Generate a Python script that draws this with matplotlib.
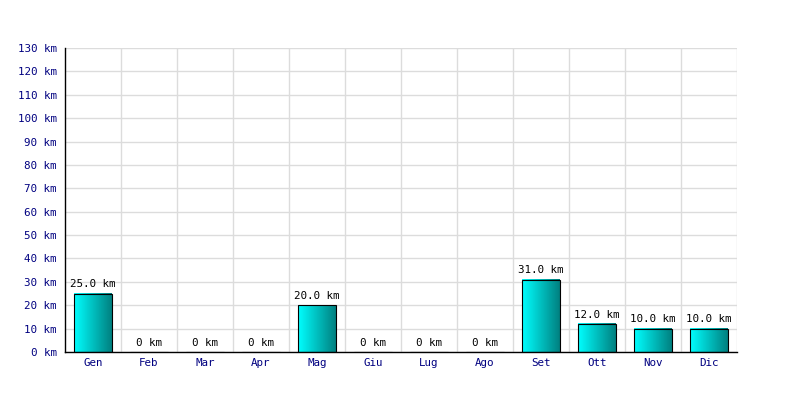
import matplotlib
matplotlib.use("Agg")
import matplotlib.pyplot as plt
import numpy as np
from matplotlib.colors import LinearSegmentedColormap

# Dati
mesi = ["Gen", "Feb", "Mar", "Apr", "Mag", "Giu", "Lug", "Ago", "Set", "Ott", "Nov", "Dic"]
km = [25.0, 0, 0, 0, 20.0, 0, 0, 0, 31.0, 12.0, 10.0, 10.0]
y_ticks = list(range(0, 140, 10))

fig = plt.figure(figsize=(8, 4), dpi=100)
ax = fig.add_axes([65 / 800, 48 / 400, 672 / 800, 304 / 400])

x = np.arange(len(mesi))
larghezza = 0.67
cmap = LinearSegmentedColormap.from_list("ciano", ["#00ffff", "#008080"])
grad = np.linspace(0, 1, 256).reshape(1, -1)

bars = ax.bar(x, km, width=larghezza, facecolor="none", edgecolor="black", linewidth=0.8, zorder=3)
for b, v in zip(bars, km):
    if v > 0:
        x0 = b.get_x()
        ax.imshow(grad, cmap=cmap, aspect="auto", extent=(x0, x0 + larghezza, 0, v),
                  interpolation="bilinear", zorder=2)
    etichetta = "0 km" if v == 0 else f"{v:.1f} km"
    ax.text(b.get_x() + larghezza / 2, v + 1.8, etichetta, ha="center", va="bottom",
            fontsize=7.8, family="DejaVu Sans Mono", color="black")

ax.set_xlim(-0.5, len(mesi) - 0.5)
ax.set_ylim(0, 130)
ax.set_xticks(x)
ax.set_xticklabels(mesi)
ax.set_xticks(np.arange(0.5, len(mesi), 1), minor=True)
ax.set_yticks(y_ticks)
ax.set_yticklabels([f"{t} km" for t in y_ticks])
for lab in ax.get_xticklabels() + ax.get_yticklabels():
    lab.set_family("DejaVu Sans Mono")
    lab.set_fontsize(7.8)
    lab.set_color("#000080")

ax.tick_params(axis="both", which="both", length=0)
ax.tick_params(axis="x", pad=4)
ax.tick_params(axis="y", pad=6)
ax.grid(True, axis="y", which="major", color="#dcdcdc", linewidth=1, zorder=0)
ax.grid(True, axis="x", which="minor", color="#dcdcdc", linewidth=1, zorder=0)
ax.set_axisbelow(True)

for s in ["top", "right"]:
    ax.spines[s].set_visible(False)
ax.spines["left"].set_linewidth(1)
ax.spines["bottom"].set_linewidth(1)

fig.savefig("out.png", dpi=100)
